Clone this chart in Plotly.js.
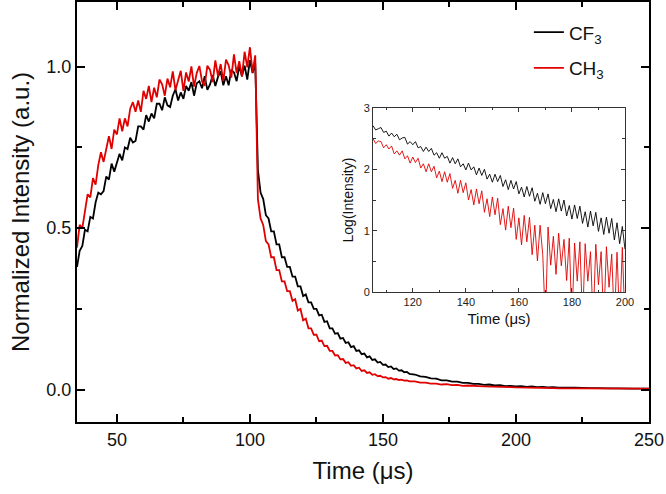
<!DOCTYPE html>
<html>
<head>
<meta charset="utf-8">
<script src="https://cdn.plot.ly/plotly-3.0.1.min.js"></script>
<style>
  html, body { margin: 0; padding: 0; background: #fff; }
  #plot { width: 666px; height: 494px; }
</style>
</head>
<body>
<div id="plot"></div>
<script>
// sampling grid helper (time axis only)
const steps = (a, b, dt) => {
  let out = [];
  for (let t = a; t <= b + 1e-9; t += dt) out.push(+t.toFixed(2));
  return out;
};

// main panel, rise while excitation is on (35..102 us, 1 us)
const tRise = steps(35, 102, 1);
const cf3Rise = [
  0.38, 0.43, 0.445, 0.495, 0.49, 0.535, 0.53, 0.58, 0.61, 0.605,
  0.615, 0.66, 0.65, 0.70, 0.675, 0.705, 0.73, 0.71, 0.75, 0.745,
  0.78, 0.765, 0.77, 0.815, 0.815, 0.805, 0.85, 0.83, 0.855, 0.84,
  0.885, 0.885, 0.865, 0.905, 0.88, 0.875, 0.91, 0.93, 0.895, 0.92,
  0.90, 0.94, 0.925, 0.952, 0.91, 0.948, 0.955, 0.933, 0.97, 0.928,
  0.945, 0.973, 0.94, 0.968, 0.985, 0.942, 0.97, 0.942, 0.99, 0.982,
  0.955, 1.002, 0.97, 1.003, 0.96, 1.02, 0.98, 1.01
];
const ch3Rise = [
  0.44, 0.51, 0.50, 0.56, 0.605, 0.595, 0.655, 0.635, 0.695, 0.735,
  0.705, 0.745, 0.785, 0.745, 0.805, 0.79, 0.84, 0.80, 0.84, 0.815,
  0.87, 0.89, 0.86, 0.895, 0.86, 0.925, 0.90, 0.94, 0.89, 0.935,
  0.905, 0.96, 0.945, 0.91, 0.963, 0.936, 0.985, 0.927, 0.96, 0.987,
  0.925, 0.982, 0.954, 1.001, 0.938, 0.98, 1.002, 0.954, 0.941, 1.003,
  0.99, 0.952, 1.019, 0.971, 1.008, 0.955, 1.022, 1.004, 0.966, 1.038,
  0.98, 1.017, 0.969, 1.046, 0.998, 1.06, 0.982, 1.035
];

// main panel, decay after the pulse (103..160 us every 1, 162..250 every 2)
const tDecay = steps(103, 160, 1).concat(steps(162, 250, 2));
const cf3Decay = [
  0.68, 0.61, 0.59, 0.54, 0.53, 0.49, 0.49, 0.45, 0.45, 0.41,
  0.41, 0.38, 0.38, 0.35, 0.35, 0.32, 0.32, 0.29, 0.295, 0.27,
  0.27, 0.25, 0.25, 0.23, 0.232, 0.21, 0.212, 0.19, 0.19, 0.173,
  0.175, 0.158, 0.16, 0.145, 0.147, 0.132, 0.135, 0.12, 0.122, 0.11,
  0.112, 0.10, 0.103, 0.092, 0.094, 0.084, 0.086, 0.077, 0.078, 0.07,
  0.072, 0.064, 0.066, 0.059, 0.06, 0.054, 0.055, 0.049,
  0.047, 0.041, 0.040, 0.035, 0.034, 0.029, 0.029, 0.025, 0.025, 0.021,
  0.021, 0.018, 0.018, 0.015, 0.016, 0.013, 0.014, 0.011, 0.012, 0.010,
  0.011, 0.009, 0.010, 0.008, 0.009, 0.007, 0.008, 0.006, 0.007, 0.006,
  0.006, 0.005, 0.006, 0.005, 0.005, 0.004, 0.005, 0.004, 0.004, 0.003,
  0.004, 0.003, 0.003, 0.003, 0.003
];
const ch3Decay = [
  0.59, 0.53, 0.51, 0.46, 0.45, 0.41, 0.41, 0.37, 0.37, 0.335,
  0.335, 0.305, 0.305, 0.275, 0.28, 0.245, 0.25, 0.215, 0.22, 0.19,
  0.19, 0.17, 0.17, 0.15, 0.152, 0.135, 0.136, 0.12, 0.12, 0.106,
  0.107, 0.094, 0.095, 0.083, 0.085, 0.074, 0.076, 0.066, 0.068, 0.058,
  0.06, 0.052, 0.054, 0.046, 0.048, 0.042, 0.043, 0.038, 0.039, 0.034,
  0.036, 0.032, 0.033, 0.03, 0.031, 0.028, 0.029, 0.026,
  0.026, 0.022, 0.022, 0.019, 0.019, 0.016, 0.017, 0.014, 0.015, 0.012,
  0.013, 0.011, 0.011, 0.01, 0.01, 0.009, 0.009, 0.008, 0.008, 0.007,
  0.007, 0.006, 0.006, 0.005, 0.006, 0.005, 0.005, 0.004, 0.005, 0.004,
  0.004, 0.004, 0.004, 0.003, 0.004, 0.003, 0.003, 0.003, 0.003, 0.003,
  0.003, 0.002, 0.003, 0.002, 0.003
];

// inset: log(intensity) of the decay, 105..200 us (-0.5 = empty channel, below axis)
const tLog = steps(105, 200, 1);
const cf3Log = [
  2.71, 2.64, 2.66, 2.68, 2.60, 2.62, 2.54, 2.59, 2.53, 2.57,
  2.48, 2.51, 2.52, 2.41, 2.45, 2.40, 2.45, 2.35, 2.37, 2.29,
  2.36, 2.29, 2.34, 2.23, 2.27, 2.18, 2.27, 2.18, 2.21, 2.10,
  2.19, 2.09, 2.17, 2.04, 2.09, 1.99, 2.10, 1.99, 2.04, 1.91,
  2.02, 1.90, 2.00, 1.84, 1.92, 1.79, 1.92, 1.80, 1.90, 1.72,
  1.83, 1.67, 1.82, 1.68, 1.80, 1.60, 1.71, 1.55, 1.72, 1.56,
  1.70, 1.48, 1.61, 1.43, 1.62, 1.44, 1.60, 1.36, 1.51, 1.31,
  1.52, 1.32, 1.50, 1.24, 1.41, 1.19, 1.42, 1.20, 1.40, 1.12,
  1.31, 1.06, 1.32, 1.08, 1.30, 0.99, 1.21, 0.94, 1.22, 0.96,
  1.20, 0.85, 1.13, 0.79, 1.07, 0.70
];
const ch3Log = [
  2.50, 2.42, 2.46, 2.45, 2.35, 2.40, 2.33, 2.38, 2.25, 2.30,
  2.23, 2.30, 2.17, 2.22, 2.10, 2.20, 2.11, 2.18, 2.02, 2.09,
  1.96, 2.09, 1.96, 2.05, 1.86, 1.97, 1.80, 1.96, 1.79, 1.93,
  1.69, 1.82, 1.61, 1.82, 1.62, 1.78, 1.50, 1.67, 1.42, 1.68,
  1.44, 1.65, 1.30, 1.52, 1.23, 1.55, 1.26, 1.53, 1.10, 1.36,
  1.01, 1.40, 1.05, 1.37, 0.86, 1.21, 0.77, 1.25, 0.82, 1.22,
  0.61, 1.09, 0.51, 1.09, 0.61, -0.5, 1.06, 0.44, 0.91, 0.29,
  0.96, 0.43, 0.86, 0.19, 0.88, -0.5, 0.80, 0.18, 0.82, -0.5,
  0.79, 0.18, 0.66, -0.5, 0.78, 0.12, 0.66, -0.5, 0.74, 0.08,
  0.62, -0.5, 0.65, -0.5, 0.73, -0.5
];

const BLACK = "#000000";
const RED = "#e00000";
const FONT = "Liberation Sans, Arial, sans-serif";

const traces = [
  {
    x: tRise.concat(tDecay), y: cf3Rise.concat(cf3Decay),
    type: "scatter", mode: "lines", name: "CF<sub>3</sub>",
    line: { color: BLACK, width: 1.8 }, legendgroup: "a"
  },
  {
    x: tRise.concat(tDecay), y: ch3Rise.concat(ch3Decay),
    type: "scatter", mode: "lines", name: "CH<sub>3</sub>",
    line: { color: RED, width: 1.8 }, legendgroup: "b"
  },
  {
    x: tLog, y: cf3Log, xaxis: "x2", yaxis: "y2", type: "scatter", mode: "lines",
    line: { color: BLACK, width: 0.9 }, showlegend: false
  },
  {
    x: tLog, y: ch3Log, xaxis: "x2", yaxis: "y2", type: "scatter", mode: "lines",
    line: { color: RED, width: 0.9 }, showlegend: false
  }
];

const mainAxis = {
  showline: true, linecolor: "#000", linewidth: 2, mirror: "allticks",
  ticks: "inside", ticklen: 8, tickwidth: 2, tickcolor: "#000",
  showgrid: false, zeroline: false,
  tickfont: { family: FONT, size: 18, color: "#111" }
};
const insetAxis = {
  showline: true, linecolor: "#333", linewidth: 1, mirror: "allticks",
  ticks: "inside", ticklen: 4, tickwidth: 1, tickcolor: "#333",
  showgrid: false, zeroline: false,
  tickfont: { family: FONT, size: 11, color: "#222" }
};

const layout = {
  width: 666, height: 494,
  margin: { l: 77, r: 17, t: 2, b: 72 },
  paper_bgcolor: "#fff", plot_bgcolor: "#fff",
  font: { family: FONT, color: "#111" },
  showlegend: true,
  legend: {
    x: 0.79, y: 0.973, xanchor: "left", yanchor: "top",
    bgcolor: "rgba(0,0,0,0)", font: { family: FONT, size: 19, color: "#111" },
    traceorder: "grouped", tracegroupgap: 8
  },
  xaxis: {
    ...mainAxis, range: [35, 250], dtick: 50, tick0: 0,
    minor: { dtick: 25, ticks: "inside", ticklen: 5, tickwidth: 2, tickcolor: "#000" },
    title: { text: "Time (μs)", font: { family: FONT, size: 24, color: "#111" }, standoff: 14 }
  },
  yaxis: {
    ...mainAxis, range: [-0.1, 1.2], dtick: 0.5, tick0: 0, tickformat: ".1f",
    minor: { dtick: 0.25, ticks: "inside", ticklen: 5, tickwidth: 2, tickcolor: "#000" },
    title: { text: "Normalized Intensity (a.u.)", font: { family: FONT, size: 24, color: "#111" }, standoff: 10 }
  },
  xaxis2: {
    ...insetAxis, domain: [0.5175, 0.958], anchor: "y2", range: [105, 200], dtick: 20, tick0: 0,
    minor: { dtick: 10, ticks: "inside", ticklen: 2.5, tickwidth: 1, tickcolor: "#333" },
    title: { text: "Time (μs)", font: { family: FONT, size: 15, color: "#111" }, standoff: 6 }
  },
  yaxis2: {
    ...insetAxis, domain: [0.309, 0.748], anchor: "x2", range: [0, 3], dtick: 1, tick0: 0,
    minor: { dtick: 0.5, ticks: "inside", ticklen: 2.5, tickwidth: 1, tickcolor: "#333" },
    title: { text: "Log(Intensity)", font: { family: FONT, size: 14, color: "#111" }, standoff: 6 }
  }
};

Plotly.newPlot("plot", traces, layout, { staticPlot: true, displayModeBar: false });
</script>
</body>
</html>
